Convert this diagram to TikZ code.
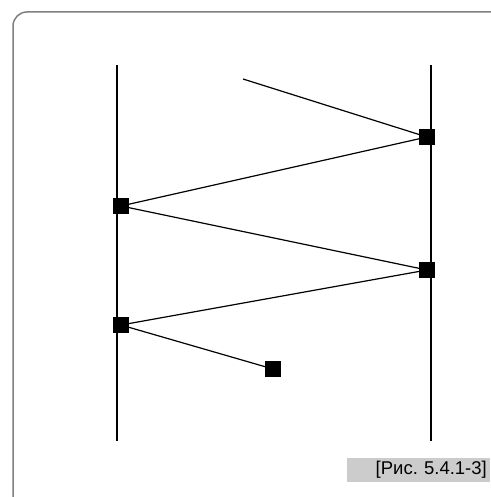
\documentclass[tikz,border=0pt]{standalone}
\usepackage{fontspec}
\setmainfont{Liberation Sans}
\usetikzlibrary{positioning}
\frenchspacing

\begin{document}
\begin{tikzpicture}[
  x=1pt, y=-1pt,
  every node/.style={font=\small},
  life/.style={line width=2.2pt},
  sig/.style={line width=1.2pt},
  pkt/.style={rectangle, fill=black, minimum size=16pt, inner sep=0pt},
  caption/.style={rectangle, fill=black!20, minimum height=20pt, text width=137pt,
    align=right, inner sep=3pt, font=\fontsize{18.5}{20}\selectfont},
]
  \useasboundingbox (0,0) rectangle (490,497);
  \draw[black!50, line width=1.5pt, rounded corners=14pt] (13,12) rectangle (520,530);

  \coordinate (Ltop) at (117,65);
  \coordinate (Lbot) at (117,441);
  \coordinate (Rtop) at (431,65);
  \coordinate (Rbot) at (431,441);
  \draw[life] (Ltop) -- (Lbot);
  \draw[life] (Rtop) -- (Rbot);

  \coordinate (start) at (243,79);
  \node[pkt] (r1) at (427,137) {};
  \node[pkt] (l1) at (121,206) {};
  \node[pkt] (r2) at (427,270) {};
  \node[pkt] (l2) at (121,325) {};
  \node[pkt] (fin) at (273,369) {};

  \draw[sig] (start) -- (r1.center) -- (l1.center) -- (r2.center) -- (l2.center) -- (fin.center);

  \node[caption, anchor=east] (cap) at (490,470) {[Рис. 5.4.1-3]};
\end{tikzpicture}
\end{document}
